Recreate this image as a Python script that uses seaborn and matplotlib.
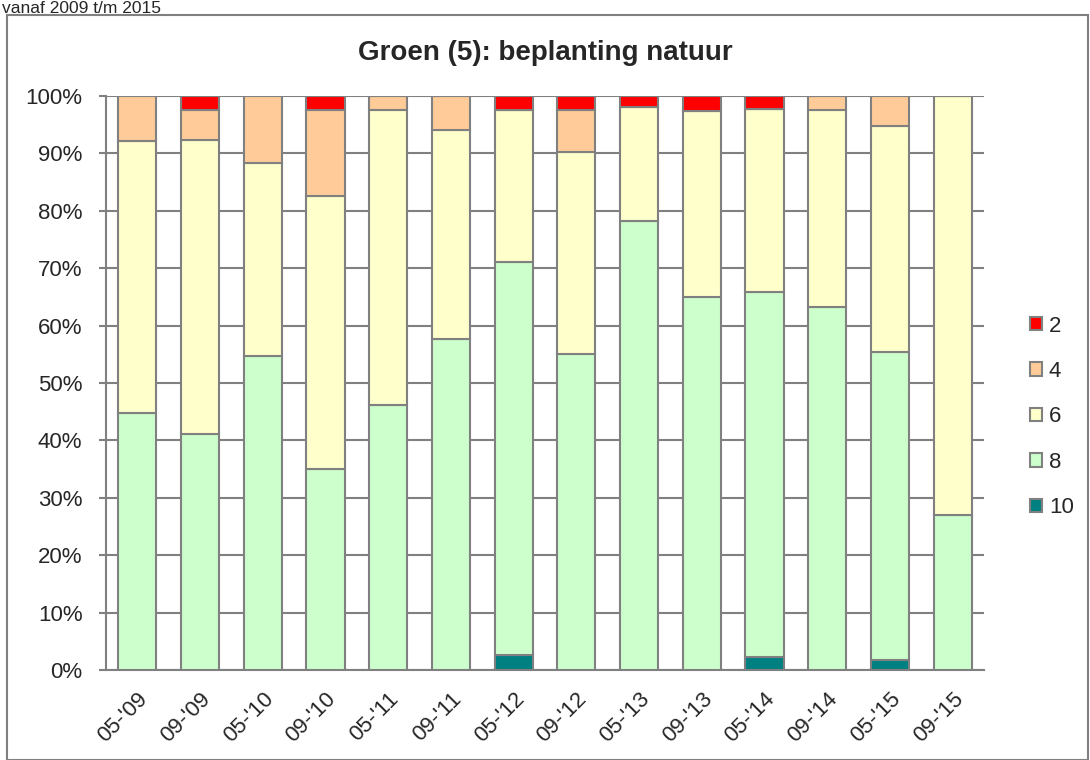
import numpy as np
import pandas as pd
import matplotlib
matplotlib.use("Agg")
import matplotlib.pyplot as plt
from matplotlib.patches import Patch, Rectangle
import seaborn as sns

# periods on the x axis
periods = ["05-'09", "09-'09", "05-'10", "09-'10", "05-'11", "09-'11", "05-'12",
           "09-'12", "05-'13", "09-'13", "05-'14", "09-'14", "05-'15", "09-'15"]

# share (%) per score
score_10 = [0, 0, 0, 0, 0, 0, 2.6, 0, 0, 0, 2.2, 0, 1.8, 0]
score_8 = [44.7, 41.1, 54.7, 35.0, 46.2, 57.6, 68.5, 55.1, 78.3, 64.9, 63.7, 63.2, 53.6, 27.0]
score_6 = [47.5, 51.3, 33.6, 47.5, 51.3, 36.4, 26.5, 35.1, 19.7, 32.5, 31.9, 34.3, 39.3, 73.0]
score_4 = [7.8, 5.2, 11.7, 15.1, 2.5, 6.0, 0, 7.4, 0, 0, 0, 2.5, 5.3, 0]
score_2 = [0, 2.4, 0, 2.4, 0, 0, 2.4, 2.4, 2.0, 2.6, 2.2, 0, 0, 0]

labels = ["10", "8", "6", "4", "2"]
colors = {"2": "#FF0000", "4": "#FFCC99", "6": "#FFFFCC", "8": "#CCFFCC", "10": "#008080"}

df = pd.DataFrame({"periode": periods, "10": score_10, "8": score_8, "6": score_6,
                   "4": score_4, "2": score_2})

sns.set_style("white")
plt.rcParams['font.family'] = ['Liberation Sans', 'DejaVu Sans']

fig = plt.figure(figsize=(10.9, 7.6), dpi=100)
ax = fig.add_axes([106 / 1090, 1 - 670 / 760, 878 / 1090, 574 / 760])

bottom = np.zeros(len(periods))
for lab in labels:
    sns.barplot(data=df, x="periode", y=lab, color=colors[lab], bottom=bottom,
                width=0.61, edgecolor="#808080", linewidth=1.5, ax=ax, zorder=3,
                saturation=1)
    bottom = bottom + df[lab].values

ax.set_xlim(-0.5, 13.5)
ax.set_ylim(0, 100)
ax.set_yticks(np.arange(0, 101, 10))
ax.set_yticklabels([f"{v}%" for v in range(0, 101, 10)], fontsize=16)
ax.set_xticks(range(len(periods)))
ax.set_xticklabels(periods, rotation=45, ha="right", rotation_mode="anchor", fontsize=16)
ax.set_xlabel("")
ax.set_ylabel("")
ax.yaxis.grid(True, color="#808080", linewidth=1.5, zorder=0)
ax.set_axisbelow(True)
for side in ["top", "right"]:
    ax.spines[side].set_visible(False)
for side in ["left", "bottom"]:
    ax.spines[side].set_color("#808080")
    ax.spines[side].set_linewidth(1.5)
ax.tick_params(axis="y", left=True, length=5, color="#808080", width=1.5, pad=12)
ax.tick_params(axis="x", bottom=False, pad=10)

ax.set_title("Groen (5): beplanting natuur", fontsize=20, fontweight="bold", pad=26)

handles = [Patch(facecolor=colors[l], edgecolor="#808080", linewidth=1.5, label=l)
           for l in ["2", "4", "6", "8", "10"]]
fig.legend(handles=handles, loc="center left", bbox_to_anchor=(1010 / 1090, 1 - 417 / 760),
           frameon=False, fontsize=16, handlelength=0.55, handleheight=0.55,
           handletextpad=0.3, labelspacing=1.1)

# outer chart frame and subtitle
fig.patches.append(Rectangle((7 / 1090, 0), 1081 / 1090, 1 - 15 / 760, transform=fig.transFigure,
                             fill=False, edgecolor="#808080", linewidth=1.5))
fig.text(2 / 1090, 1 - 1 / 760, "vanaf 2009 t/m 2015", fontsize=12.5, va="top", ha="left")

fig.savefig("out.png", dpi=100)
